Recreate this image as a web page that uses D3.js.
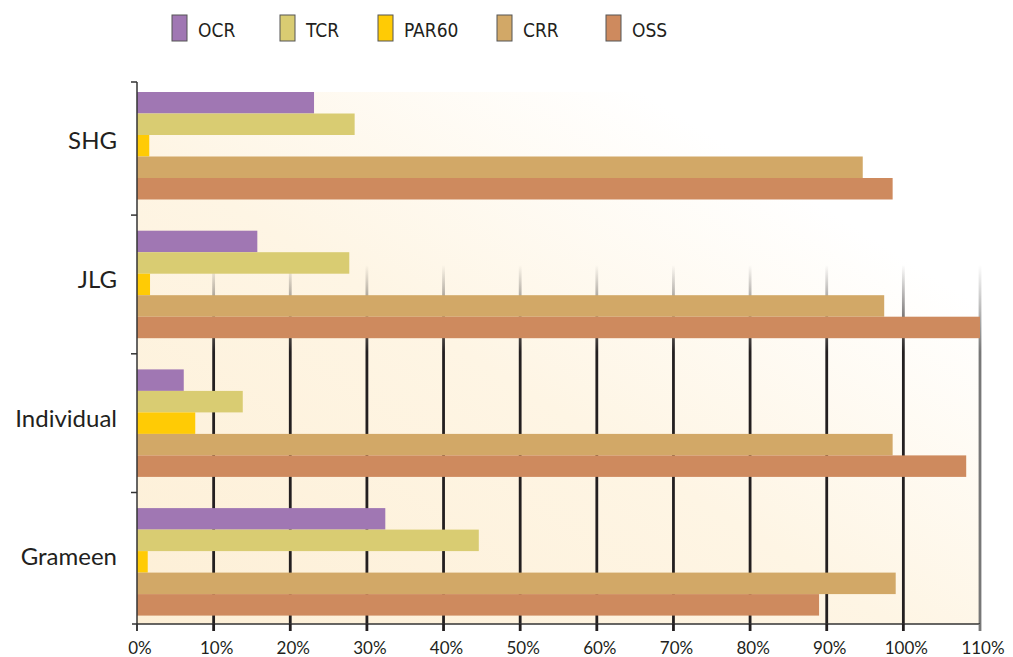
<!DOCTYPE html>
<html>

<head>
  <title>Bar Chart</title>
  <script src="https://cdn.jsdelivr.net/npm/d3@7"></script>
  <style>
    body {
      margin: 0;
      background-color: #ffffff;
      font-family: Lato, "DejaVu Sans Condensed", sans-serif;
    }

    text {
      fill: #231f20;
    }

    .legend text {
      font-family: "Liberation Sans Narrow", "DejaVu Sans Condensed", sans-serif;
    }
  </style>
</head>

<body>
  <div id="chart"></div>
  <script>
    const categories = ["SHG", "JLG", "Individual", "Grameen"];
    const seriesNames = ["OCR", "TCR", "PAR60", "CRR", "OSS"];
    const colors = ["#a077b3", "#d9cc72", "#ffcb05", "#d2a867", "#ce8a5e"];
    const ocr = [23.1, 15.7, 6.1, 32.4];
    const tcr = [28.4, 27.7, 13.8, 44.6];
    const par60 = [1.6, 1.7, 7.6, 1.4];
    const crr = [94.7, 97.5, 98.6, 99.0];
    const oss = [98.6, 110, 108.2, 89.0];
    const tickValues = [0, 10, 20, 30, 40, 50, 60, 70, 80, 90, 100, 110];

    const values = [ocr, tcr, par60, crr, oss];

    const width = 1013;
    const height = 657;
    const plotLeft = 137, plotRight = 980, plotTop = 92, plotBottom = 624;

    const svg = d3.select("#chart").append("svg")
      .attr("width", width)
      .attr("height", height);

    const defs = svg.append("defs");

    const bg = defs.append("linearGradient")
      .attr("id", "bg")
      .attr("x1", 0).attr("y1", 1).attr("x2", 1).attr("y2", 0);
    bg.append("stop").attr("offset", 0).attr("stop-color", "#fdefd6");
    bg.append("stop").attr("offset", 0.45).attr("stop-color", "#fef5e4");
    bg.append("stop").attr("offset", 0.8).attr("stop-color", "#ffffff");

    const gridFade = defs.append("linearGradient")
      .attr("id", "gridFade")
      .attr("gradientUnits", "userSpaceOnUse")
      .attr("x1", 0).attr("y1", 265).attr("x2", 0).attr("y2", 352);
    gridFade.append("stop").attr("offset", 0).attr("stop-color", "#231f20").attr("stop-opacity", 0);
    gridFade.append("stop").attr("offset", 1).attr("stop-color", "#231f20").attr("stop-opacity", 1);

    const grayFade = defs.append("linearGradient")
      .attr("id", "grayFade")
      .attr("gradientUnits", "userSpaceOnUse")
      .attr("x1", 0).attr("y1", 265).attr("x2", 0).attr("y2", 352);
    grayFade.append("stop").attr("offset", 0).attr("stop-color", "#777777").attr("stop-opacity", 0);
    grayFade.append("stop").attr("offset", 1).attr("stop-color", "#777777").attr("stop-opacity", 1);

    const x = d3.scaleLinear()
      .domain([0, 110])
      .range([plotLeft, plotRight]);

    const y = d3.scaleBand()
      .domain(categories)
      .range([76.4, 631.2])
      .paddingInner(0.225)
      .paddingOuter(0.1125);

    const ySub = d3.scaleBand()
      .domain(seriesNames)
      .range([0, y.bandwidth()]);

    // plot background
    svg.append("rect")
      .attr("x", plotLeft)
      .attr("y", plotTop)
      .attr("width", plotRight - plotLeft)
      .attr("height", plotBottom - plotTop)
      .attr("fill", "url(#bg)");

    // vertical grid lines, fading in from the top
    svg.append("g")
      .selectAll("line")
      .data(tickValues.slice(1))
      .join("line")
      .attr("x1", d => x(d))
      .attr("x2", d => x(d))
      .attr("y1", plotTop)
      .attr("y2", plotBottom)
      .attr("stroke", d => d === 110 ? "url(#grayFade)" : "url(#gridFade)")
      .attr("stroke-width", 2.8);

    // bars
    const groups = svg.append("g")
      .selectAll("g")
      .data(categories)
      .join("g")
      .attr("transform", d => `translate(0,${y(d)})`);

    groups.selectAll("rect")
      .data((d, i) => seriesNames.map((s, j) => ({ series: s, value: values[j][i], index: j })))
      .join("rect")
      .attr("x", x(0))
      .attr("y", d => ySub(d.series))
      .attr("width", d => x(d.value) - x(0))
      .attr("height", ySub.bandwidth())
      .attr("fill", d => colors[d.index]);

    // x axis
    const xAxis = svg.append("g");
    xAxis.append("line")
      .attr("x1", plotLeft - 5)
      .attr("x2", plotRight)
      .attr("y1", plotBottom)
      .attr("y2", plotBottom)
      .attr("stroke", "#333")
      .attr("stroke-width", 1.5);

    xAxis.selectAll(".tick")
      .data(tickValues)
      .join("line")
      .attr("x1", d => x(d))
      .attr("x2", d => x(d))
      .attr("y1", plotBottom)
      .attr("y2", plotBottom + 7)
      .attr("stroke", d => d === 0 ? "#333" : d === 110 ? "#777" : "#231f20")
      .attr("stroke-width", d => d === 0 ? 1.5 : 2.8);

    xAxis.selectAll("text")
      .data(tickValues)
      .join("text")
      .attr("x", d => x(d) + 3)
      .attr("y", 654)
      .attr("text-anchor", "middle")
      .style("font-size", "17px")
      .text(d => d + "%");

    // y axis
    const yAxis = svg.append("g");
    const yTop = 82;
    yAxis.append("line")
      .attr("x1", plotLeft)
      .attr("x2", plotLeft)
      .attr("y1", yTop)
      .attr("y2", plotBottom + 7)
      .attr("stroke", "#333")
      .attr("stroke-width", 1.5);

    const boundaries = [yTop].concat(categories.slice(1).map(c => y(c) - y.step() * y.paddingInner() / 2));
    yAxis.selectAll(".ytick")
      .data(boundaries)
      .join("line")
      .attr("x1", plotLeft - 6)
      .attr("x2", plotLeft)
      .attr("y1", d => d)
      .attr("y2", d => d)
      .attr("stroke", "#333")
      .attr("stroke-width", 1.5);

    yAxis.selectAll("text")
      .data(categories)
      .join("text")
      .attr("x", 117)
      .attr("y", d => y(d) + y.bandwidth() / 2 - 5)
      .attr("dy", "0.35em")
      .attr("text-anchor", "end")
      .style("font-size", "24px")
      .text(d => d);

    // legend
    const legendX = [172, 280, 378, 497, 606];
    const legend = svg.append("g")
      .attr("class", "legend")
      .selectAll("g")
      .data(seriesNames)
      .join("g")
      .attr("transform", (d, i) => `translate(${legendX[i]},15)`);

    legend.append("rect")
      .attr("width", 15)
      .attr("height", 26)
      .attr("fill", (d, i) => colors[i])
      .attr("stroke", "#555")
      .attr("stroke-width", 1);

    legend.append("text")
      .attr("x", 26)
      .attr("y", 22)
      .style("font-size", "19px")
      .text(d => d);
  </script>
</body>

</html>
